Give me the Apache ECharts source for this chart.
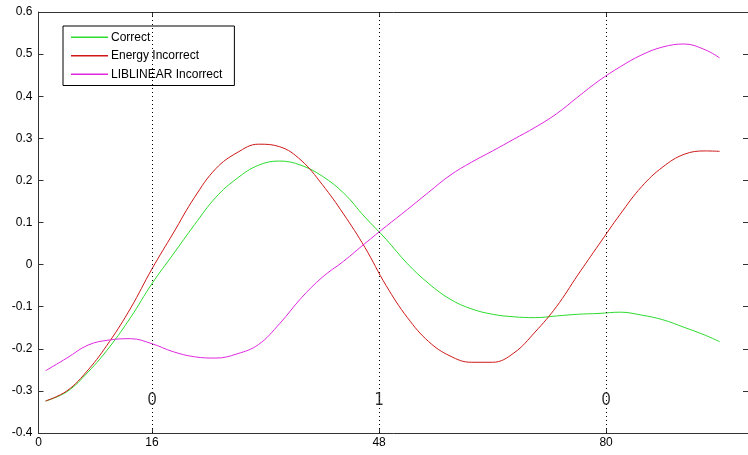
<!DOCTYPE html>
<html>
<head>
<meta charset="utf-8">
<script src="https://cdn.jsdelivr.net/npm/echarts@6/dist/echarts.min.js"></script>
<style>
    html, body { margin: 0; padding: 0; background: #fff; }
    #chart { width: 748px; height: 455px; }
</style>
</head>
<body>
<div id="chart"></div>
<script>
// sample positions along x
var xs = [1, 4, 7, 10, 13, 16, 19, 22, 25, 28, 31, 34, 37, 40, 43, 46, 49, 52, 55, 58, 61, 64, 67, 70, 73, 76, 79, 82, 85, 88, 91, 94, 96]

var correct = [-0.324, -0.302, -0.255, -0.196, -0.125, -0.045, 0.025, 0.095, 0.16, 0.205, 0.236, 0.246, 0.236, 0.21, 0.17, 0.113,
    0.06, 0.002, -0.045, -0.082, -0.105, -0.118, -0.124, -0.126, -0.122, -0.118, -0.116, -0.113, -0.12, -0.131, -0.149, -0.168, -0.183]

var energyIncorrect = [-0.324, -0.3, -0.25, -0.183, -0.103, -0.01, 0.075, 0.16, 0.228, 0.266, 0.286, 0.28, 0.248, 0.19, 0.12, 0.041,
    -0.05, -0.126, -0.183, -0.217, -0.232, -0.232, -0.21, -0.16, -0.1, -0.025, 0.048, 0.12, 0.185, 0.232, 0.262, 0.27, 0.269]

var liblinearIncorrect = [-0.252, -0.222, -0.191, -0.179, -0.176, -0.188, -0.207, -0.219, -0.222, -0.212, -0.19, -0.14, -0.08, -0.03, 0.008, 0.05,
    0.091, 0.131, 0.172, 0.212, 0.243, 0.27, 0.298, 0.326, 0.358, 0.398, 0.437, 0.47, 0.498, 0.517, 0.524, 0.51, 0.491]

var xTickLabels = [0, 16, 48, 80]
var dividers = [16, 48, 80]
var segmentLabels = [[16, -0.324, '0'], [48, -0.324, '1'], [80, -0.324, '0']]

var seriesNames = ['Correct', 'Energy Incorrect', 'LIBLINEAR Incorrect']

var font = "'Liberation Sans Narrow', 'DejaVu Sans Condensed', 'Liberation Sans', Arial, sans-serif"
var labelFont = "'Liberation Sans', Arial, sans-serif"

function pairs(vals) {
    return xs.map(function (x, i) { return [x, vals[i]] })
}

function lineSeries(name, vals, color) {
    return {
        name: name,
        type: 'line',
        data: pairs(vals),
        symbol: 'none',
        smooth: 0.4,
        lineStyle: {color: color, width: 1},
        itemStyle: {color: color},
        z: 3,
    }
}

var chart = echarts.init(document.getElementById('chart'))

var tickStyle = {inside: true, length: 5, lineStyle: {color: '#333'}}
var lineAxis = {show: true, onZero: false, lineStyle: {color: '#333', width: 1}}

var series = [
    lineSeries(seriesNames[0], correct, '#2ddc2d'),
    lineSeries(seriesNames[1], energyIncorrect, '#cf1717'),
    lineSeries(seriesNames[2], liblinearIncorrect, '#e028e0'),
    {
        name: 'segments',
        type: 'scatter',
        data: segmentLabels,
        symbolSize: 0,
        label: {
            show: true,
            position: 'inside',
            formatter: function (p) { return p.data[2] },
            color: '#000',
            fontSize: 17,
            fontFamily: font,
        },
        markLine: {
            silent: true,
            symbol: 'none',
            label: {show: false},
            lineStyle: {color: '#000', type: [1, 3], width: 1},
            data: dividers.map(function (d) { return {xAxis: d} }),
        },
        z: 2,
    },
]

chart.setOption({
    backgroundColor: '#fff',
    animation: false,
    grid: {left: 38.5, top: 12, width: 714, height: 421},
    legend: {
        data: seriesNames,
        orient: 'vertical',
        left: 63,
        top: 26,
        icon: 'rect',
        itemWidth: 37,
        itemHeight: 1.5,
        itemGap: 0,
        padding: [2, 12, 2, 8],
        borderColor: '#000',
        borderWidth: 1,
        backgroundColor: '#fff',
        textStyle: {fontSize: 12, lineHeight: 18.5, fontFamily: labelFont, color: '#000', padding: [0, 0, 0, -2]},
    },
    xAxis: [{
        type: 'value',
        min: 0,
        max: 100,
        axisLine: lineAxis,
        axisTick: Object.assign({customValues: dividers}, tickStyle),
        axisLabel: {customValues: xTickLabels, color: '#000', fontSize: 12, fontFamily: labelFont, margin: 4},
        splitLine: {show: false},
    }, {
        type: 'value',
        position: 'top',
        min: 0,
        max: 100,
        axisLine: lineAxis,
        axisTick: Object.assign({customValues: dividers}, tickStyle),
        axisLabel: {show: false},
        splitLine: {show: false},
    }],
    yAxis: [{
        type: 'value',
        min: -0.4,
        max: 0.6,
        interval: 0.1,
        axisLine: lineAxis,
        axisTick: tickStyle,
        axisLabel: {color: '#000', fontSize: 12, fontFamily: labelFont, margin: 6},
        splitLine: {show: false},
    }, {
        type: 'value',
        position: 'right',
        min: -0.4,
        max: 0.6,
        interval: 0.1,
        axisLine: lineAxis,
        axisTick: tickStyle,
        axisLabel: {show: false},
        splitLine: {show: false},
    }],
    series: series,
})
</script>
</body>
</html>
